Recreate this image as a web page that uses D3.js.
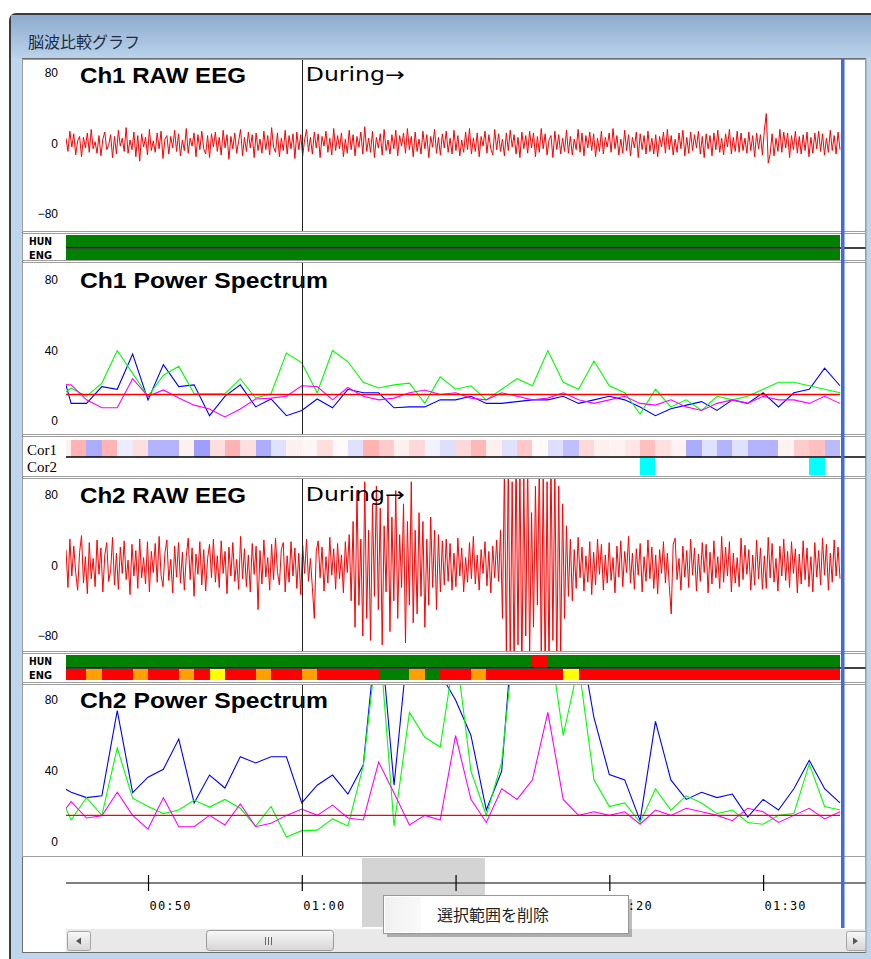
<!DOCTYPE html>
<html>
<head>
<meta charset="utf-8">
<title>脳波比較グラフ</title>
<script src="https://cdn.jsdelivr.net/npm/d3@7"></script>
<style>
body { margin: 0; background: #fff; }
svg { display: block; }
</style>
</head>
<body>
<div id="chart"></div>
<script>
// ---------- data ----------
var windowTitle = "脳波比較グラフ";
var markerLabel = "During→";
var markerTime = 60;
var menuLabel = "選択範囲を削除";

// power spectrum sample times (s), one per second
var psTimes = [44,45,46,47,48,49,50,51,52,53,54,55,56,57,58,59,60,61,62,63,64,65,66,67,68,69,
  70,71,72,73,74,75,76,77,78,79,80,81,82,83,84,85,86,87,88,89,90,91,92,93,94,95];
// cell start times for the strips, each covers [t, t+1)
var cellTimes = [44,45,46,47,48,49,50,51,52,53,54,55,56,57,58,59,60,61,62,63,64,65,66,67,68,69,
  70,71,72,73,74,75,76,77,78,79,80,81,82,83,84,85,86,87,88,89,90,91,92,93,94];

var tickTimes = [50, 60, 70, 80, 90];
var tickLabels = ["00:50", "01:00", "01:10", "01:20", "01:30"];
var rawTicks = [-80, 0, 80];
var psTicks = [0, 40, 80];
var psThreshold = 15;

// Ch1 raw EEG (uV)
var ch1Raw = [
  6,-9,14,-4,11,-13,3,8,-15,7,-5,12,-10,16,-6,2,-11,9,-14,5,
  13,-7,-2,10,-16,8,-12,15,-3,6,-9,18,-11,4,-7,13,-15,9,-20,11,
  -4,7,-13,16,-8,3,-10,12,-6,14,-17,5,9,-12,8,-5,15,-9,11,-14,
  4,-8,17,-11,6,-3,12,-15,10,-7,14,-6,-12,9,-16,11,-4,13,-9,7,
  -13,15,-5,10,-18,8,-6,12,-11,3,16,-14,7,-9,13,-5,10,-16,12,-8,
  5,-11,14,-7,9,-13,18,-4,-10,12,-15,6,-8,15,-12,9,-6,11,-17,13,
  -7,10,-14,4,16,-9,7,-12,13,-5,11,-16,8,-3,14,-10,6,-13,17,-8,
  9,-6,12,-15,5,-11,15,-7,10,-14,8,-4,13,-12,19,-9,6,-10,14,-16,
  7,-5,11,-13,16,-8,4,-12,10,-6,15,-14,9,-3,12,-11,17,-7,8,-15,
  13,-9,5,-12,14,-6,10,-16,8,-4,16,-11,7,-13,11,-5,14,-10,6,-12,
  15,-8,9,-14,4,-10,13,-7,17,-12,6,-9,12,-15,8,-3,14,-11,10,-6,
  -13,16,-7,11,-9,5,-14,12,-8,15,-4,10,-12,7,-16,13,-6,9,-11,14,
  -5,12,-15,8,-10,17,-6,11,-13,4,9,-16,14,-7,10,-12,6,-9,15,-11,
  8,-13,5,-7,16,-10,12,-14,9,-5,13,-8,11,-15,6,-9,14,-12,7,-4,
  12,-10,17,-6,9,-13,5,-11,15,-8,10,-14,7,-5,13,-16,11,-7,9,-12,
  14,-9,6,-12,10,-15,8,-4,13,-11,16,-7,9,-13,5,-10,12,-6,15,-14,
  7,-11,13,-8,10,-5,14,-12,8,-16,11,-6,9,-14,12,-7,15,-10,6,-13,
  11,-4,16,-12,7,-9,14,-10,12,-8,6,-11,13,-8,9,-15,12,-6,10,-13,
  15,34,-22,-12,11,-14,6,-9,16,-10,13,-5,12,-16,9,-7,14,-11,8,-12,
  10,-8,13,-15,7,-11,12,-6,14,-9,11,-13,6,-10,15,-8,9,-12,13,-7];

// Ch2 raw EEG (uV)
var ch2Raw = [
  18,-25,30,-12,22,-8,-28,15,34,-20,10,-32,26,-15,8,-24,29,-10,20,-30,
  12,26,-18,-6,32,-22,14,-27,21,-9,28,-16,6,-33,24,-12,17,-26,30,-14,
  9,-21,27,-30,16,-8,25,-19,33,-11,-24,14,29,-17,7,-31,22,-13,26,-20,
  15,-28,10,31,-16,20,-35,13,-10,27,-22,18,-29,8,24,-14,30,-19,11,-25,
  28,-9,16,-32,21,-12,26,-18,7,-27,33,-15,19,-24,12,-30,25,-10,22,-50,
  17,-21,29,-13,9,-28,24,-16,31,-7,-22,18,26,-30,11,-19,27,-12,20,-26,
  14,-33,23,-9,30,-18,8,-25,-60,16,28,-14,21,-29,10,-20,32,-11,19,-27,
  25,-15,12,-31,27,-8,35,-40,50,-70,85,-45,30,-80,95,-60,40,-85,70,-35,
  90,-50,65,-90,45,-30,80,-75,55,-40,85,-60,35,-25,70,-88,50,-45,95,-65,
  40,-55,60,-35,50,-70,30,-45,55,-25,40,-50,35,-30,28,-22,30,-18,25,-28,
  14,-24,31,-12,20,-30,9,-19,26,-15,33,-21,12,-28,18,-9,27,-23,16,-31,
  22,-14,29,-18,40,-60,110,-100,120,-110,95,-120,130,-90,115,-125,100,-80,120,-105,
  60,-70,90,-45,120,-110,105,-130,95,-120,125,-85,110,-115,90,-100,70,-60,45,-35,
  30,-40,18,-26,32,-14,21,-29,11,-19,27,-33,15,-22,30,-10,24,-28,12,-20,
  26,-17,9,-31,22,-13,28,-24,16,-8,33,-20,14,-27,19,-11,25,-30,10,-18,
  29,-15,21,-26,12,-32,18,-9,27,-20,14,-23,-55,24,31,-16,8,-28,22,-13,
  17,-25,30,-11,20,-29,13,-18,26,-8,24,-31,15,-21,28,-14,10,-26,33,-19,
  21,-12,27,-30,14,-20,9,-24,31,-16,23,-10,18,-28,12,-22,29,-15,20,-27,
  11,-26,32,-14,25,-19,8,-29,22,-12,30,-17,16,-25,27,-9,19,-31,13,-21,
  28,-16,20,-24,10,-30,26,-13,17,-22,31,-11,24,-28,14,-19,29,-12,21,-15];

// Ch1 power spectrum
var ch1Blue = [41,10,10,19.5,18,38,12,32,19.5,20.5,3,14,20.5,8,12.5,3,6,12.5,7.5,18,16,
  16,7.5,8,8,12,12,14,10,10,11,12,12,14,10,12,14,12,8,3,7,9,11,6,12,10,16,8,16,18,30,20];
var ch1Green = [12.6,18.6,14,21.5,40,27,14,26,31,15.5,15.5,15.5,24,13,15.5,38.5,33,16,40,33.6,22,
  18.7,20.5,21.5,10,25,18,20,12,18,24,20,40,22,18,34,20,16,4,18,8,12,6,14,12,14,18,22,22,20,18,16];
var ch1Magenta = [20.5,20.5,12,7.5,7.5,24,14,17.6,13,9,6.8,2.3,6.8,12.5,13,14,20,19.5,12,19,14,
  12,13,16,17.6,15,16,13,12,16,14,12,13,16,12,10,12,14,10,9,12,8,6,10,12,10,14,12,12,10,14,10];

// Ch2 power spectrum
var ch2Blue = [33,28,25,26,74,27.8,36.5,41,58,22,37.7,30.4,48,44.5,48,48,22,32,37.7,27,43.4,
  130,32,120,100,95,80,60,18,40,150,140,110,130,120,70,38,35,12,68,35,24,28,25,27,14,24,18,30,46,30,22];
var ch2Green = [32,12.4,25,15,53,24.7,20,16,18,23.6,19.7,24,19,9,20,2.8,6.4,6.7,13,9,43,
  120,9,73,59,53.5,110,40,15,45,130,110,120,60,100,35,20,22,11,30,18,26,22,16,18,11,10,15,16,44,20,18];
var ch2Magenta = [11.6,22.7,13.5,14.8,28,15,7.3,25,8.6,8.6,15,9.6,21.4,8.6,10.6,15,18.6,15,20.8,13.5,12.4,
  45,27.6,9.6,15,12.4,60,24,11,30,24,35,73,24,15,17,15,17,10,18,15,19,17,15,12,19,17,11,15,19,13,17];

// judgement strips: G green, O orange, Y yellow, R red (one letter per second, 44..94)
var ch1Hun = ("GGGGGGGGGG" + "GGGGGGGGGG" + "GGGGGGGGGG" + "GGGGGGGGGG" + "GGGGGGGGGGG").split("");
var ch1Eng = ("GGGGGGGGGG" + "GGGGGGGGGG" + "GGGGGGGGGG" + "GGGGGGGGGG" + "GGGGGGGGGGG").split("");
var ch2Hun = ("GGGGGGGGGG" + "GGGGGGGGGG" + "GGGGGGGGGG" + "GRGGGGGGGG" + "GGGGGGGGGGG").split("");
var ch2Eng = ("RRORRORROR" + "YRRORRORRR" + "RGGOGRRORR" + "RRRYRRRRRR" + "RRRRRRRRRRR").split("");

// correlation strips (one value per second, 44..94)
var cor1 = [0.06,0.3,-0.32,0.3,-0.07,0.13,-0.3,-0.3,0.06,-0.38,0.13,0.3,0.13,-0.32,-0.12,0.06,0.03,
  0.13,0.02,-0.12,0.3,0.2,0.06,0.15,-0.05,-0.13,0.15,0.28,0.06,-0.12,0.22,0.02,-0.13,-0.25,
  0.15,0.06,0.05,0.1,0.25,0.12,0.05,-0.33,-0.12,-0.3,-0.12,-0.3,-0.3,0.05,0.2,0.25,-0.27];
var cor2 = [0,0,0,0,0,0,0,0,0,0, 0,0,0,0,0,0,0,0,0,0, 0,0,0,0,0,0,0,0,0,0, 0,0,0,0,0,0,0,0,1,0,
  0,0,0,0,0,0,0,0,0,1,0];

// ---------- drawing ----------
var W = 871, H = 959;
var X0 = 66, X1 = 840;
var x = d3.scaleLinear().domain([44.667, 95]).range([X0, X1]);
var stripColor = { G: "#008000", O: "#ffa000", Y: "#ffff00", R: "#ff0000" };
var corColor = d3.scaleLinear().domain([-1, 0, 1]).range(["#0000ff", "#ffffff", "#ff0000"]);
var sans = "'Liberation Sans', Arial, sans-serif";

var svg = d3.select("#chart").append("svg").attr("width", W).attr("height", H);
var defs = svg.append("defs");

var tg = defs.append("linearGradient").attr("id", "titleGrad").attr("x1", 0).attr("y1", 0).attr("x2", 0).attr("y2", 1);
tg.append("stop").attr("offset", "0%").attr("stop-color", "#8eabcd");
tg.append("stop").attr("offset", "100%").attr("stop-color", "#bad2ea");
var bg = defs.append("linearGradient").attr("id", "btnGrad").attr("x1", 0).attr("y1", 0).attr("x2", 0).attr("y2", 1);
bg.append("stop").attr("offset", "0%").attr("stop-color", "#f8f8f8");
bg.append("stop").attr("offset", "100%").attr("stop-color", "#d6d6d6");
var mg = defs.append("linearGradient").attr("id", "iconGrad").attr("x1", 0).attr("y1", 0).attr("x2", 1).attr("y2", 0);
mg.append("stop").attr("offset", "0%").attr("stop-color", "#f1f1f1");
mg.append("stop").attr("offset", "100%").attr("stop-color", "#f9f9f9");

// window frame
svg.append("rect").attr("x", 10).attr("y", 14).attr("width", 880).attr("height", 960).attr("rx", 6)
  .attr("fill", "#bed5ec").attr("stroke", "#3c3c3c").attr("stroke-width", 2);
svg.append("rect").attr("x", 11).attr("y", 15).attr("width", 870).attr("height", 43).attr("fill", "url(#titleGrad)");
svg.append("text").attr("x", 28).attr("y", 48).text(windowTitle)
  .attr("font-family", "'Noto Sans CJK JP', sans-serif").attr("font-size", 16).attr("fill", "#1b2c48");
svg.append("rect").attr("x", 22.5).attr("y", 58.5).attr("width", 843.5).attr("height", 894)
  .attr("fill", "#fff").attr("stroke", "#6e6e6e");

var clipN = 0;
function clip(y0, y1) {
  var id = "clip" + (clipN++);
  defs.append("clipPath").attr("id", id).append("rect")
    .attr("x", X0).attr("y", y0).attr("width", X1 - X0 + 1).attr("height", y1 - y0);
  return "url(#" + id + ")";
}

function frame(y0, y1) {
  svg.append("rect").attr("x", 22.5).attr("y", y0 + 0.5).attr("width", 843).attr("height", y1 - y0)
    .attr("fill", "#fff").attr("stroke", "#9e9e9e");
}

function yLabels(scale, ticks) {
  var ax = svg.append("g").attr("transform", "translate(58,0)")
    .call(d3.axisLeft(scale).tickValues(ticks).tickSize(0).tickPadding(0));
  ax.select(".domain").remove();
  ax.selectAll("text").attr("font-family", sans).attr("font-size", 12).attr("fill", "#000");
}

function title(txt, y, len) {
  svg.append("text").attr("x", 80).attr("y", y).text(txt)
    .attr("font-family", sans).attr("font-weight", "bold").attr("font-size", 22)
    .attr("textLength", len).attr("lengthAdjust", "spacingAndGlyphs").attr("fill", "#000");
}

function marker(y0, y1) {
  svg.append("line").attr("x1", Math.round(x(markerTime)) + 0.5).attr("x2", Math.round(x(markerTime)) + 0.5)
    .attr("y1", y0).attr("y2", y1).attr("stroke", "#222").attr("stroke-width", 1);
}

function rawPanel(data, top, bot, yHi, yLo, name, titleY) {
  frame(top, bot);
  var y = d3.scaleLinear().domain([-80, 80]).range([yLo, yHi]);
  var idx = d3.scaleLinear().domain([0, data.length - 1]).range(x.domain());
  yLabels(y, rawTicks);
  title(name, titleY, 166);
  svg.append("path").datum(data).attr("clip-path", clip(top + 1, bot))
    .attr("d", d3.line().x(function (d, i) { return x(idx(i)); }).y(function (d) { return y(d); }))
    .attr("fill", "none").attr("stroke", "#ff0000").attr("stroke-width", 1);
  marker(top + 1, bot);
  svg.append("text").attr("x", x(markerTime) + 4).attr("y", titleY - 2).text(markerLabel)
    .attr("font-family", "'DejaVu Sans', sans-serif").attr("font-size", 19).attr("textLength", 99)
    .attr("lengthAdjust", "spacingAndGlyphs").attr("fill", "#000");
}

function psPanel(series, top, bot, y0, y80, name, titleY) {
  frame(top, bot);
  var y = d3.scaleLinear().domain([0, 80]).range([y0, y80]);
  yLabels(y, psTicks);
  title(name, titleY, 248);
  var cp = clip(top + 1, bot);
  var line = d3.line().x(function (d, i) { return x(psTimes[i]); }).y(function (d) { return y(d); });
  series.forEach(function (s) {
    svg.append("path").datum(s.values).attr("clip-path", cp).attr("d", line)
      .attr("fill", "none").attr("stroke", s.color).attr("stroke-width", 1.1);
  });
  svg.append("line").attr("x1", x(44.667)).attr("x2", x(95))
    .attr("y1", y(psThreshold)).attr("y2", y(psThreshold))
    .attr("stroke", "#ff0000").attr("stroke-width", 1.4);
  marker(top + 1, bot);
}

function cells(codes, y0, h, colorFn) {
  svg.append("g").selectAll("rect").data(cellTimes).join("rect")
    .attr("x", function (t) { return x(Math.max(t, 44.667)); })
    .attr("width", function (t) { return x(t + 1) - x(Math.max(t, 44.667)); })
    .attr("y", y0).attr("height", h)
    .attr("fill", function (t, i) { return colorFn(codes[i]); })
    .attr("shape-rendering", "crispEdges");
}

function stripLabel(txt, y, len) {
  svg.append("text").attr("x", 29).attr("y", y).text(txt)
    .attr("font-family", "'Liberation Sans Narrow', 'DejaVu Sans Condensed', sans-serif")
    .attr("font-weight", "bold").attr("font-size", 11)
    .attr("textLength", len).attr("lengthAdjust", "spacingAndGlyphs").attr("fill", "#000");
}

function judgeStrip(hun, eng, top, bot) {
  frame(top, bot);
  var mid = top + 15;
  cells(hun, top + 2, 12.5, function (c) { return stripColor[c]; });
  cells(eng, mid + 1, 11, function (c) { return stripColor[c]; });
  svg.append("line").attr("x1", X0).attr("x2", 866).attr("y1", mid).attr("y2", mid)
    .attr("stroke", "#000").attr("stroke-width", 1.6);
  stripLabel("HUN", top + 12, 23);
  stripLabel("ENG", top + 26, 23);
}

// Ch1 raw
rawPanel(ch1Raw, 59, 231, 73, 214, "Ch1 RAW EEG", 83);
// Ch1 HUN/ENG
judgeStrip(ch1Hun, ch1Eng, 233, 260);
// Ch1 power spectrum
psPanel([
  { values: ch1Blue, color: "#0000ff" },
  { values: ch1Green, color: "#00ff00" },
  { values: ch1Magenta, color: "#ff00ff" }
], 262, 434, 421, 280, "Ch1 Power Spectrum", 288);

// correlation strip
frame(436, 476);
cells(cor1, 440, 16.5, function (v) { return corColor(v); });
cells(cor2, 458, 17, function (v) { return v ? "#00ffff" : "#ffffff"; });
svg.append("line").attr("x1", X0).attr("x2", 866).attr("y1", 457).attr("y2", 457)
  .attr("stroke", "#000").attr("stroke-width", 1.5);
svg.append("text").attr("x", 27).attr("y", 455).text("Cor1")
  .attr("font-family", "'Liberation Serif', serif").attr("font-size", 14)
  .attr("textLength", 30).attr("lengthAdjust", "spacingAndGlyphs");
svg.append("text").attr("x", 27).attr("y", 472).text("Cor2")
  .attr("font-family", "'Liberation Serif', serif").attr("font-size", 14)
  .attr("textLength", 30).attr("lengthAdjust", "spacingAndGlyphs");

// Ch2 raw
rawPanel(ch2Raw, 478, 651, 495, 636, "Ch2 RAW EEG", 503);
// Ch2 HUN/ENG
judgeStrip(ch2Hun, ch2Eng, 653, 682);
// Ch2 power spectrum
psPanel([
  { values: ch2Blue, color: "#0000ff" },
  { values: ch2Green, color: "#00ff00" },
  { values: ch2Magenta, color: "#ff00ff" }
], 684, 856, 842, 700, "Ch2 Power Spectrum", 708);

// selected range on the time axis
svg.append("rect").attr("x", 362).attr("y", 858).attr("width", 123).attr("height", 69).attr("fill", "#d4d4d4");

// time axis
var axY = 883;
var tAx = svg.append("g").attr("transform", "translate(0," + axY + ")")
  .call(d3.axisBottom(x).tickValues(tickTimes)
    .tickFormat(function (d, i) { return tickLabels[i]; }).tickSizeOuter(0));
tAx.select(".domain").remove();
tAx.selectAll(".tick line").attr("y1", -8).attr("y2", 8).attr("stroke", "#000").attr("stroke-width", 1.2);
tAx.selectAll(".tick text").attr("y", 27).attr("dy", 0).attr("dx", 1).attr("text-anchor", "start")
  .attr("font-family", "'DejaVu Sans Mono', monospace").attr("font-size", 12)
  .attr("letter-spacing", 1.2).attr("fill", "#000");
svg.append("line").attr("x1", X0).attr("x2", 866).attr("y1", axY).attr("y2", axY)
  .attr("stroke", "#000").attr("stroke-width", 1.2);

// current position cursor
svg.append("rect").attr("x", X1 + 1).attr("y", 59).attr("width", 3.5).attr("height", 869).attr("fill", "#4169e1");

// scrollbar
svg.append("rect").attr("x", X0).attr("y", 929).attr("width", 800).attr("height", 23).attr("fill", "#e9e9e9");
svg.append("rect").attr("x", 67.5).attr("y", 931.5).attr("width", 23).attr("height", 19).attr("rx", 2)
  .attr("fill", "url(#btnGrad)").attr("stroke", "#a5a5a5");
svg.append("path").attr("d", "M76,941 L81,937.5 L81,944.5 Z").attr("fill", "#555");
svg.append("rect").attr("x", 206.5).attr("y", 930.5).attr("width", 127).attr("height", 20).attr("rx", 3)
  .attr("fill", "url(#btnGrad)").attr("stroke", "#9a9a9a");
[265, 268, 271].forEach(function (gx) {
  svg.append("line").attr("x1", gx + 0.5).attr("x2", gx + 0.5).attr("y1", 937).attr("y2", 945)
    .attr("stroke", "#666").attr("stroke-width", 1);
});
svg.append("rect").attr("x", 846.5).attr("y", 931.5).attr("width", 23).attr("height", 19).attr("rx", 2)
  .attr("fill", "url(#btnGrad)").attr("stroke", "#a5a5a5");
svg.append("path").attr("d", "M858,941 L853,937.5 L853,944.5 Z").attr("fill", "#555");
// right and bottom window border
svg.append("rect").attr("x", 866).attr("y", 58).attr("width", 10).attr("height", 901).attr("fill", "#bed5ec");
svg.append("line").attr("x1", 866).attr("x2", 866).attr("y1", 58).attr("y2", 953).attr("stroke", "#8a9db3");
svg.append("rect").attr("x", 22).attr("y", 953).attr("width", 850).attr("height", 6).attr("fill", "#bed5ec");

// context menu
svg.append("rect").attr("x", 387).attr("y", 899).attr("width", 245).attr("height", 38).attr("fill", "#000").attr("opacity", 0.25);
svg.append("rect").attr("x", 383.5).attr("y", 895.5).attr("width", 245).attr("height", 38)
  .attr("fill", "#fff").attr("stroke", "#979797");
svg.append("rect").attr("x", 385).attr("y", 897).attr("width", 36).attr("height", 35).attr("fill", "url(#iconGrad)");
svg.append("text").attr("x", 437).attr("y", 921).text(menuLabel)
  .attr("font-family", "'Noto Sans CJK JP', sans-serif").attr("font-size", 16).attr("fill", "#222");
</script>
</body>
</html>
